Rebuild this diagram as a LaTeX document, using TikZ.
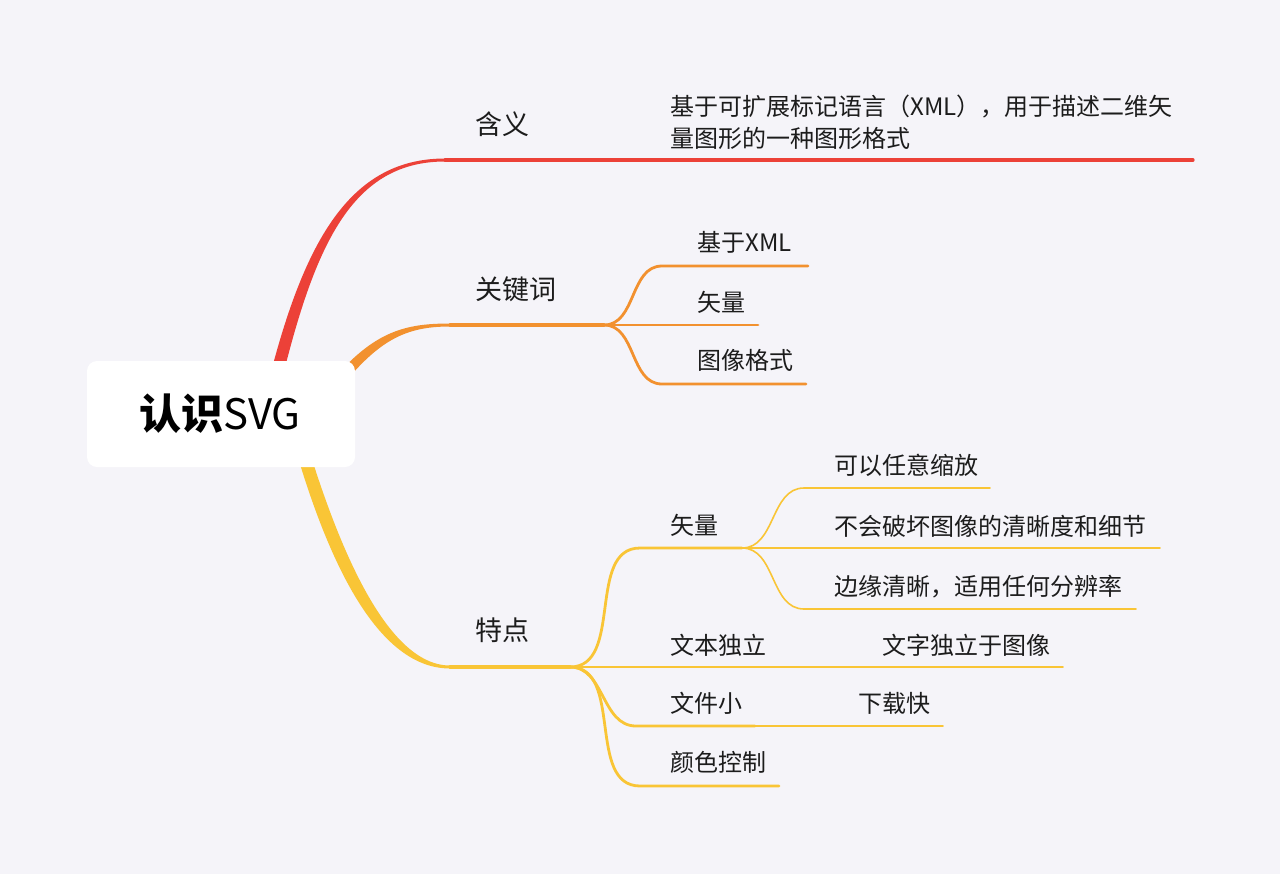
\documentclass[tikz,border=0pt]{standalone}
\usepackage{fontspec}
\setmainfont{Noto Sans CJK SC}
\definecolor{bgc}{HTML}{F5F4F9}
\definecolor{txt}{HTML}{1C1C1C}
\definecolor{redc}{HTML}{EC4138}
\definecolor{orgc}{HTML}{F2912F}
\definecolor{ylwc}{HTML}{F9C536}
\begin{document}
\begin{tikzpicture}[x=0.5pt, y=-0.5pt, line cap=round, line join=round,
                    lbl/.style={anchor=west, inner sep=0pt, text=txt,
                                font=\fontsize{12}{16}\selectfont},
                    toplbl/.style={lbl, font=\fontsize{13.5}{16}\selectfont},
                    lvone/.style={line width=1.6pt},
                    lvtwo/.style={line width=1.4pt},
                    lvthree/.style={line width=0.8pt}]
  % Canvas (pixel grid, y down)
  \fill[bgc] (0,0) rectangle (1280,874);
  \useasboundingbox (0,0) rectangle (1280,874);

  % Main branches as tapered ribbons (hidden ends under the root box)
  \fill[redc] (264,400) .. controls (300,250) and (345,158.5) .. (445,158.5)
    -- (445,161.5) .. controls (348,161.5) and (312,252) .. (277,400) -- cycle;
  \fill[orgc] (318,398) .. controls (368,333) and (400,323.5) .. (450,323.5)
    -- (450,326.5) .. controls (402,326.5) and (374,342) .. (328,404) -- cycle;
  \fill[ylwc] (290,430) .. controls (322,545) and (372,668.5) .. (450,668.5)
    -- (450,665.5) .. controls (384,665.5) and (334,535) .. (303,430) -- cycle;

  % Fork points and line ends
  \coordinate (m0) at (445,160);   \coordinate (m1) at (1193,160);
  \coordinate (k0) at (450,325);   \coordinate (kf) at (604,325);
  \coordinate (k1s) at (662,266);  \coordinate (k1e) at (808,266);
  \coordinate (k2e) at (758,325);
  \coordinate (k3s) at (662,384);  \coordinate (k3e) at (806,384);
  \coordinate (f0) at (450,667);   \coordinate (ff) at (570,667);
  \coordinate (v0s) at (640,548);  \coordinate (vf) at (742,548);
  \coordinate (t0e) at (778,667);  \coordinate (t1e) at (1063,667);
  \coordinate (s0s) at (636,726);  \coordinate (s0e) at (755,726);
  \coordinate (s1e) at (943,726);
  \coordinate (c0s) at (640,786);  \coordinate (c0e) at (779,786);
  \coordinate (v1s) at (804,488);  \coordinate (v1e) at (990,488);
  \coordinate (v2e) at (1160,548);
  \coordinate (v3s) at (804,609);  \coordinate (v3e) at (1136,609);

  % Meaning
  \draw[redc, lvone] (m0) -- (m1);

  % Keywords
  \draw[orgc, line width=1.6pt] (k0) -- (kf);
  \draw[orgc, line width=1.4pt] (kf) to[out=0, in=180] (k1s) -- (k1e);
  \draw[orgc, line width=1.4pt] (kf) -- (k2e);
  \draw[orgc, line width=1.4pt] (kf) to[out=0, in=180] (k3s) -- (k3e);

  % Features
  \draw[ylwc, lvone] (f0) -- (ff);
  \draw[ylwc, lvtwo] (ff) to[out=0, in=180] (v0s) -- (vf);
  \draw[ylwc, lvtwo] (ff) -- (t0e);
  \draw[ylwc, lvtwo] (ff) to[out=0, in=180] (s0s) -- (s0e);
  \draw[ylwc, lvtwo] (ff) to[out=0, in=180] (c0s) -- (c0e);
  \draw[ylwc, lvthree] (vf) to[out=0, in=180] (v1s) -- (v1e);
  \draw[ylwc, lvthree] (vf) -- (v2e);
  \draw[ylwc, lvthree] (vf) to[out=0, in=180] (v3s) -- (v3e);
  \draw[ylwc, lvthree] (t0e) -- (t1e);
  \draw[ylwc, lvthree] (s0e) -- (s1e);

  % Root
  \fill[white, rounded corners=5pt] (87,361) rectangle (355,467);
  \node[inner sep=0pt, text=black, font=\fontsize{21}{25}\selectfont]
    (root) at (220,414) {{\bfseries 认识}SVG};

  % Labels
  \node[toplbl] (meaning)  at (475,124) {含义};
  \node[toplbl] (keywords) at (475,289) {关键词};
  \node[toplbl] (features) at (475,630) {特点};

  \node[lbl, align=left] (define) at (670,122)
    {基于可扩展标记语言（XML），用于描述二维矢\\量图形的一种图形格式};

  \node[lbl] (kxml)   at (697,242) {基于XML};
  \node[lbl] (kvec)   at (697,302) {矢量};
  \node[lbl] (kimg)   at (697,360) {图像格式};

  \node[lbl] (fvec)   at (670,525) {矢量};
  \node[lbl] (ftext)  at (670,645) {文本独立};
  \node[lbl] (fsmall) at (670,703) {文件小};
  \node[lbl] (fcolor) at (670,762) {颜色控制};

  \node[lbl] (vzoom)  at (834,465) {可以任意缩放};
  \node[lbl] (vclear) at (834,526) {不会破坏图像的清晰度和细节};
  \node[lbl] (vedge)  at (834,587) {边缘清晰，适用任何分辨率};
  \node[lbl] (tsep)   at (882,645) {文字独立于图像};
  \node[lbl] (sfast)  at (858,703) {下载快};
\end{tikzpicture}
\end{document}
